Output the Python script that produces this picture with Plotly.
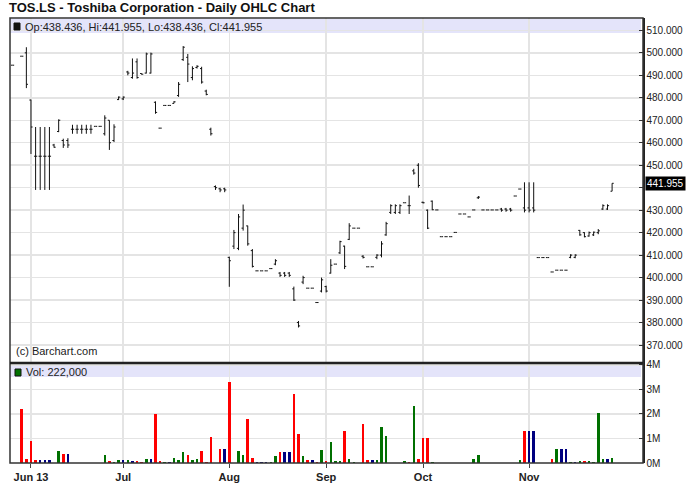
import pandas as pd
import plotly.graph_objects as go

# ---------------- data ----------------
_days = pd.bdate_range("2013-05-28", "2013-11-27")
dates = [d.strftime("%Y-%m-%d") for d in _days if d.strftime("%Y-%m-%d") != "2013-08-26"]

F = None
opens = [494.5, F, 498.5, 500, 479,
         454, 454, 454, 454, 459, 465, 461, 461, 466, 466,
         466, 466, 466, 467.3, 467.3, 464, 470, 461, 479.2, 479.5,
         491.5, 489, 496, 490.8, 491, 491, 478, 466.5, 476.6, 476.6,
         477.5, 481, 497, 498, 489, 493.5, 493, 483, 466, 440.5,
         439.5, 439.5, 409, 414, 413, 422, 423, 412, 403, 403,
         403, 404, 406, 402, 402, 402, 395, 380, 398, 395.3,
         395.3, 388.9, 394, 396, 402, 406, 411, 414, 417, 422,
         422, 409.5, 404.8, 404.8, 409, 410, 419, 429, 429, 429,
         433.3, 432, 447.5, 450, 433.5, 430, 434, 430.1, 418.2, 418.2,
         418.2, 420.1, 428.3, 428.3, 427, 430.1, 435.5, 430.1, 430.1, 430.1,
         430.1, 430.5, 430.5, 430.5, 436.3, 439.4, 431, 431, 431, 408.9,
         408.9, 408.9, 402.5, 403.3, 403.3, 403.3, 409, 409, 421, 420,
         418.5, 419, 420, 430.5, 430.5, 438.436]
highs = [494.5, F, 498.5, 502.5, 479.2,
         467, 467, 467, 467, 459.5, 470.4, 461.8, 462, 468, 468,
         468, 468, 468, 467.3, 467.3, 472.2, 470, 468.2, 480.6, 480.6,
         492, 497.5, 497.5, 490.8, 500.1, 500.1, 478.4, 466.5, 476.6, 476.6,
         478.5, 487, 503, 499.5, 494, 494.5, 493.8, 483.6, 466.7, 441,
         440, 440, 409.3, 421.2, 428.3, 432.5, 423.1, 412.7, 403, 403,
         403, 404, 408.2, 402.5, 402.5, 402.5, 396, 380.7, 400.8, 395.3,
         395.3, 388.9, 400, 396.4, 408.2, 406, 416.4, 414.2, 424.2, 422,
         422, 410, 404.8, 404.8, 410.4, 416.2, 424.8, 432.6, 432.6, 432.6,
         433.3, 436.5, 448.4, 450.9, 433.8, 430.3, 434.3, 430.1, 418.2, 418.2,
         418.2, 420.1, 428.3, 428.3, 427, 430.1, 436.3, 430.1, 430.1, 430.1,
         430.1, 431, 431, 431, 436.3, 439.4, 442.4, 442.4, 442.4, 408.9,
         408.9, 408.9, 402.5, 403.3, 403.3, 403.3, 410.4, 410.4, 421.2, 420.2,
         420.5, 420.5, 421.6, 432.6, 432.6, 441.955]
lows = [494.5, F, 498.5, 484.3, 455,
        439, 439, 439, 439, 457.8, 464.7, 457.7, 457.7, 464, 464,
        464, 464, 464, 467.3, 467.3, 463.2, 456.8, 460.3, 479, 479,
        490, 488.5, 488.5, 490.3, 490.8, 490.8, 472.9, 466.5, 476.6, 476.6,
        477.5, 480.4, 496.4, 487, 487.8, 493, 486.3, 481.1, 463.2, 439,
        438, 438, 395.9, 412.7, 412.2, 420.9, 414.2, 404.5, 403, 403,
        403, 404, 405.5, 400.3, 400.3, 400.3, 389.6, 377.8, 397.1, 395.3,
        395.3, 388.9, 393.4, 393.4, 401.8, 406, 410.5, 403.8, 416.7, 422,
        422, 408.5, 404.8, 404.8, 408.2, 409, 418.6, 428.3, 428.3, 428.3,
        433.3, 428.3, 445.8, 440, 433, 421.6, 430, 430.1, 418.2, 418.2,
        418.2, 420.1, 428.3, 428.3, 427, 430.1, 435, 430.1, 430.1, 430.1,
        430.1, 429.3, 429.3, 429.3, 436.3, 439.4, 429, 429, 429, 408.9,
        408.9, 408.9, 402.5, 403.3, 403.3, 403.3, 408.6, 408.6, 418.6, 417.9,
        418.2, 418.5, 419.3, 430.1, 430.1, 438.436]
closes = [494.5, F, 498.5, 486, 467,
          454, 454, 454, 454, 458, 470, 459, 459, 466, 466,
          466, 466, 466, 467.3, 467.3, 471, 460, 467, 480.3, 480.3,
          491, 491, 489, 490.5, 499.5, 499.5, 473.5, 466.5, 476.6, 476.6,
          478.2, 486, 502.5, 495, 493, 494, 487, 481.5, 464, 440,
          439, 439, 407.5, 420, 427, 430, 415, 405, 403, 403,
          403, 404, 407.5, 401, 401, 401, 390, 378.5, 400, 395.3,
          395.3, 388.9, 399, 394, 405.5, 406, 416, 405, 423, 422,
          422, 409, 404.8, 404.8, 410, 415, 424, 432, 432, 432,
          433.3, 432, 446.5, 441, 433.3, 422, 430.2, 430.1, 418.2, 418.2,
          418.2, 420.1, 428.3, 428.3, 427, 430.1, 435.8, 430.1, 430.1, 430.1,
          430.1, 430, 430, 430, 436.3, 439.4, 430, 430, 430, 408.9,
          408.9, 408.9, 402.5, 403.3, 403.3, 403.3, 410, 410, 419, 418.2,
          420, 420.2, 420.8, 432, 432, 441.955]
volumes = [0, 0, 2200000, 180000, 900000,
           120000, 120000, 120000, 120000, 0, 500000, 370000, 370000, 0, 0,
           0, 0, 0, 0, 0, 330000, 100000, 60000, 140000, 140000,
           140000, 100000, 100000, 60000, 180000, 180000, 2000000, 100000, 60000, 60000,
           220000, 140000, 450000, 330000, 140000, 180000, 500000, 60000, 1080000, 0,
           570000, 570000, 3320000, 0, 500000, 330000, 1800000, 220000, 60000, 60000,
           60000, 60000, 280000, 450000, 450000, 450000, 2800000, 1200000, 280000, 140000,
           140000, 60000, 530000, 100000, 850000, 100000, 100000, 1320000, 180000, 50000,
           0, 1580000, 140000, 140000, 140000, 1450000, 1120000, 0, 0, 0,
           100000, 50000, 2320000, 180000, 1000000, 1000000, 50000, 0, 0, 0,
           0, 0, 0, 0, 0, 180000, 320000, 0, 0, 0,
           0, 0, 0, 0, 0, 140000, 1300000, 1300000, 1300000, 0,
           0, 0, 180000, 570000, 570000, 570000, 50000, 50000, 100000, 100000,
           100000, 50000, 2050000, 180000, 180000, 222000]
# u = close up, d = close down, n = unchanged
vol_dir = ["n", "n", "d", "d", "d",
           "d", "n", "n", "n", "n", "u", "d", "n", "n", "n",
           "n", "n", "n", "n", "n", "u", "d", "u", "u", "n",
           "u", "n", "d", "d", "u", "n", "d", "d", "u", "n",
           "u", "u", "u", "d", "u", "u", "d", "d", "d", "n",
           "d", "n", "d", "n", "u", "u", "d", "d", "n", "n",
           "n", "u", "u", "d", "n", "n", "d", "d", "u", "d",
           "n", "d", "u", "d", "u", "u", "u", "d", "u", "u",
           "n", "d", "d", "n", "u", "u", "u", "n", "n", "n",
           "u", "d", "u", "d", "d", "d", "u", "n", "n", "n",
           "n", "n", "n", "n", "n", "u", "u", "n", "n", "n",
           "n", "n", "n", "n", "n", "u", "d", "n", "n", "n",
           "n", "n", "d", "u", "n", "n", "u", "n", "u", "d",
           "u", "u", "u", "u", "n", "u"]

month_ticks = ["2013-06-03", "2013-07-01", "2013-08-01", "2013-09-02", "2013-10-01", "2013-11-01"]
month_labels = ["Jun 13", "Jul", "Aug", "Sep", "Oct", "Nov"]
price_ticks = [370, 380, 390, 400, 410, 420, 430, 440, 450, 460, 470, 480, 490, 500, 510]
vol_ticks = [0, 1000000, 2000000, 3000000, 4000000]
vol_labels = ["0M", "1M", "2M", "3M", "4M"]

assert len(dates) == len(opens) == len(highs) == len(lows) == len(closes) == len(volumes) == len(vol_dir)

# ---------------- figure ----------------
W, H = 688, 503
ML, MR, MT, MB = 10, 45, 18, 40
PW, PH = W - ML - MR, H - MT - MB


def px_x(px):
    return (px - ML) / PW


def px_y(py):
    return (H - MB - py) / PH


split = px_y(363)
FONT = "Liberation Sans, Arial, Helvetica, sans-serif"
GRID = "#e4e4e4"
dir_colors = {"u": "#007000", "d": "#ff0000", "n": "#000080"}

fig = go.Figure()
fig.add_trace(go.Ohlc(
    x=dates, open=opens, high=highs, low=lows, close=closes,
    increasing=dict(line=dict(color="#111111", width=1)),
    decreasing=dict(line=dict(color="#111111", width=1)),
    tickwidth=0.35, showlegend=False, hoverinfo="skip",
    xaxis="x", yaxis="y"))
fig.add_trace(go.Bar(
    x=dates, y=volumes, marker=dict(color=[dir_colors[d] for d in vol_dir], line=dict(width=0)),
    width=0.55, showlegend=False, hoverinfo="skip", xaxis="x2", yaxis="y2"))

xrange = [-0.55, 136.7]
common_x = dict(type="category", categoryorder="array", categoryarray=dates, range=xrange,
                tickvals=month_ticks, showgrid=True, gridcolor=GRID, gridwidth=1.5,
                zeroline=False, showline=False, fixedrange=True)

fig.update_layout(
    width=W, height=H, autosize=False,
    margin=dict(l=ML, r=MR, t=MT, b=MB, autoexpand=False),
    paper_bgcolor="white", plot_bgcolor="rgba(0,0,0,0)",
    font=dict(family=FONT, size=10, color="#222"),
    showlegend=False, bargap=0,
    xaxis=dict(**common_x, domain=[0, 1], anchor="y", showticklabels=False, ticks="",
               rangeslider=dict(visible=False)),
    xaxis2=dict(**common_x, domain=[0, 1], anchor="y2", matches="x",
                ticktext=["<b>%s</b>" % t for t in month_labels],
                tickfont=dict(family=FONT, size=11, color="#222"),
                ticks="outside", ticklen=4, tickcolor="#444"),
    yaxis=dict(domain=[split, 1], anchor="x", side="right", range=[362, 515.5],
               tickvals=price_ticks,
               ticktext=["" if v == 440 else "%.3f" % v for v in price_ticks],
               ticks="inside", ticklen=4, tickcolor="#333",
               showgrid=True, gridcolor=GRID, gridwidth=1.5, zeroline=False,
               showline=True, linecolor="#222", linewidth=1.5,
               tickfont=dict(family=FONT, size=10, color="#222")),
    yaxis2=dict(domain=[0, split], anchor="x2", side="right", range=[0, 4080000],
                tickvals=vol_ticks, ticktext=vol_labels,
                ticks="inside", ticklen=4, tickcolor="#333",
                showgrid=True, gridcolor=GRID, gridwidth=1.5, zeroline=False,
                showline=True, linecolor="#222", linewidth=1.5,
                tickfont=dict(family=FONT, size=10, color="#222")),
)

shapes = [
    # legend bands
    dict(type="rect", xref="paper", yref="paper", x0=0, x1=px_x(641), y0=px_y(33), y1=px_y(19),
         fillcolor="#e4e4fa", line=dict(width=0), layer="below"),
    dict(type="rect", xref="paper", yref="paper", x0=0, x1=px_x(641), y0=px_y(377), y1=px_y(365),
         fillcolor="#e4e4fa", line=dict(width=0), layer="below"),
    # legend squares
    dict(type="rect", xref="paper", yref="paper", x0=px_x(14), x1=px_x(20), y0=px_y(30), y1=px_y(23),
         fillcolor="#111", line=dict(color="#111", width=1)),
    dict(type="rect", xref="paper", yref="paper", x0=px_x(15), x1=px_x(21), y0=px_y(376), y1=px_y(369),
         fillcolor="#007000", line=dict(color="#111", width=1)),
    # frame
    dict(type="rect", xref="paper", yref="paper", x0=0, x1=1, y0=0, y1=1,
         line=dict(color="#333", width=1.5), fillcolor="rgba(0,0,0,0)"),
    dict(type="line", xref="paper", yref="paper", x0=0, x1=1, y0=split, y1=split,
         line=dict(color="#222", width=2.5)),
]

annotations = [
    dict(text="<b>TOS.LS - Toshiba Corporation - Daily OHLC Chart</b>", xref="paper", yref="paper",
         x=px_x(7), y=px_y(7), xanchor="left", yanchor="middle", showarrow=False,
         font=dict(family=FONT, size=13, color="#111")),
    dict(text="Op:438.436, Hi:441.955, Lo:438.436, Cl:441.955", xref="paper", yref="paper",
         x=px_x(23), y=px_y(27), xanchor="left", yanchor="middle", showarrow=False,
         font=dict(family=FONT, size=11, color="#222")),
    dict(text="Vol: 222,000", xref="paper", yref="paper",
         x=px_x(24), y=px_y(372), xanchor="left", yanchor="middle", showarrow=False,
         font=dict(family=FONT, size=11, color="#222")),
    dict(text="(c) Barchart.com", xref="paper", yref="paper",
         x=px_x(14), y=px_y(351), xanchor="left", yanchor="middle", showarrow=False,
         font=dict(family=FONT, size=11, color="#222")),
    dict(text="%.3f" % closes[-1], xref="paper", yref="y", x=1, y=closes[-1],
         xanchor="left", yanchor="middle", xshift=2, showarrow=False, bgcolor="#000",
         borderpad=1, font=dict(family=FONT, size=10, color="#fff")),
]
fig.update_layout(shapes=shapes, annotations=annotations)

fig.write_html("out.html",
               config={"displayModeBar": False, "staticPlot": True},
               post_script="document.body.style.margin='0';document.body.style.padding='0';"
                           "document.body.style.overflow='hidden';")
